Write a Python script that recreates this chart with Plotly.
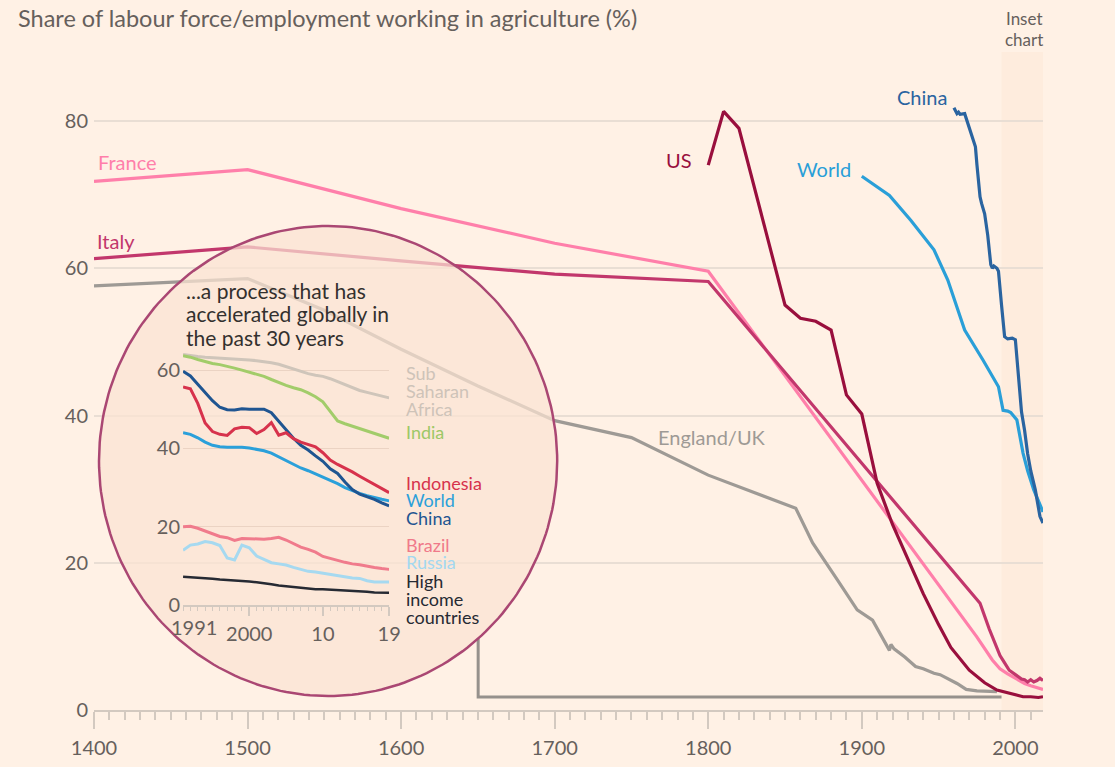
import numpy as np
import plotly.graph_objects as go

# ---------------- DATA ----------------
uk_years = [1400, 1500, 1550, 1600, 1650, 1700, 1750, 1800, 1857, 1868, 1884, 1897, 1907,
            1918, 1919, 1921, 1928, 1935, 1940, 1947, 1951, 1956, 1962, 1968, 1975, 1988]
uk_vals = [57.6, 58.6, 54.3, 49.0, 44.0, 39.3, 37.0, 31.9, 27.4, 22.7, 17.7, 13.6, 12.2,
           8.1, 8.9, 8.3, 7.2, 5.9, 5.6, 5.0, 4.8, 4.3, 3.6, 2.8, 2.6, 2.5]

france_years = [1400, 1500, 1600, 1700, 1800, 1975, 1985, 1990, 1995, 2000, 2003, 2006, 2010, 2013, 2016, 2018]
france_vals = [71.8, 73.4, 68.1, 63.4, 59.6, 9.9, 6.8, 5.6, 4.9, 4.3, 3.9, 3.6, 3.3, 3.1, 2.9, 2.8]

italy_years = [1400, 1500, 1600, 1700, 1800, 1977, 1983, 1990, 1993, 1996, 2000, 2002, 2004,
               2006, 2008, 2010, 2012, 2014, 2016, 2018]
italy_vals = [61.3, 62.9, 61.0, 59.2, 58.2, 14.5, 11.0, 7.4, 6.4, 5.4, 4.8, 4.5, 4.2,
              4.1, 3.8, 4.1, 3.8, 4.0, 4.3, 4.0]

us_years = [1800, 1810, 1820, 1850, 1860, 1870, 1880, 1890, 1900, 1910, 1920, 1930, 1940,
            1950, 1958, 1970, 1980, 1988, 1995, 2000, 2005, 2010, 2015, 2018]
us_vals = [74.0, 81.3, 79.0, 55.0, 53.2, 52.8, 51.6, 42.8, 40.2, 30.8, 25.2, 20.4, 15.8,
           11.6, 8.5, 5.4, 3.7, 2.7, 2.3, 2.0, 1.8, 1.8, 1.7, 1.8]

world_years = [1900, 1918, 1932, 1947, 1956, 1967, 1979, 1986, 1989, 1992, 1995, 1997, 2001,
               2005, 2008, 2012, 2015, 2018]
world_vals = [72.5, 69.9, 66.5, 62.5, 58.4, 51.6, 47.5, 45.0, 43.9, 40.7, 40.6, 40.4, 39.4,
              34.9, 32.5, 29.9, 28.3, 26.9]

china_years = [1960, 1961, 1962, 1963, 1964, 1967, 1969, 1971, 1974, 1975, 1977, 1978, 1980,
               1982, 1984, 1985, 1986, 1988, 1989, 1991, 1993, 1995, 1998, 2000, 2002, 2004,
               2006, 2008, 2010, 2013, 2016, 2018]
china_vals = [81.8, 81.3, 81.0, 81.2, 80.9, 81.0, 79.8, 78.3, 76.5, 74.0, 69.7, 68.8, 67.4,
              64.5, 60.5, 60.0, 60.3, 60.0, 59.6, 55.0, 50.7, 50.4, 50.5, 50.3, 45.0, 40.5,
              38.0, 34.8, 32.5, 29.9, 26.3, 25.4]

# Inset: 1991-2019
inset_years = list(range(1991, 2020))
ssa = [64.0, 63.7, 63.5, 63.3, 63.2, 63.0, 62.9, 62.8, 62.7, 62.6, 62.4, 62.2, 61.9, 61.5, 60.9,
       60.3, 59.7, 59.1, 58.7, 58.4, 57.8, 57.0, 56.2, 55.4, 54.8, 54.3, 53.8, 53.3, 52.9]
india = [63.7, 63.3, 62.7, 62.2, 61.7, 61.4, 61.0, 60.5, 60.0, 59.5, 59.0, 58.4, 57.6, 56.8, 56.1,
         55.5, 55.0, 54.2, 53.2, 51.9, 49.5, 47.0, 46.3, 45.7, 45.1, 44.5, 43.8, 43.2, 42.6]
china_in = [59.7, 58.5, 56.4, 54.3, 52.2, 50.5, 49.9, 49.8, 50.1, 50.0, 50.0, 50.0, 49.1, 46.9, 44.8,
            42.6, 40.8, 39.6, 38.1, 36.7, 34.8, 33.6, 31.4, 29.5, 28.3, 27.7, 27.0, 26.1, 25.3]
indonesia = [55.7, 55.2, 51.5, 46.5, 44.3, 43.6, 43.3, 45.0, 45.4, 45.3, 43.8, 44.8, 46.6, 43.4, 44.0,
             42.5, 41.6, 41.0, 40.4, 38.9, 37.0, 35.9, 35.0, 34.0, 32.9, 31.8, 30.7, 29.7, 28.7]
world_in = [44.0, 43.6, 42.7, 41.6, 40.8, 40.4, 40.3, 40.3, 40.3, 40.1, 39.8, 39.4, 38.8, 37.8, 36.8,
            35.8, 35.0, 34.3, 33.5, 32.8, 31.9, 31.0, 30.0, 29.2, 28.5, 27.9, 27.4, 27.0, 26.6]
brazil = [20.0, 20.1, 19.6, 18.9, 18.1, 17.5, 17.2, 16.5, 17.0, 16.9, 16.8, 16.8, 17.0, 17.3, 16.6,
          15.6, 14.8, 14.2, 13.5, 12.4, 11.8, 11.4, 10.9, 10.5, 10.3, 9.9, 9.6, 9.3, 9.1]
russia = [14.0, 15.3, 15.6, 16.2, 15.9, 15.2, 12.0, 11.5, 15.3, 14.6, 12.5, 11.6, 10.8, 10.5, 10.2,
          9.6, 9.0, 8.6, 8.4, 8.1, 7.8, 7.5, 7.2, 6.9, 6.8, 6.2, 5.9, 5.9, 5.9]
high_income = [7.2, 7.1, 7.0, 6.8, 6.7, 6.5, 6.4, 6.3, 6.1, 6.0, 5.8, 5.6, 5.3, 5.0, 4.8,
               4.6, 4.3, 4.1, 4.0, 4.0, 3.9, 3.9, 3.8, 3.7, 3.6, 3.4, 3.2, 3.1, 3.1]

main_xticks = [1400, 1500, 1600, 1700, 1800, 1900, 2000]
main_yticks = [0, 20, 40, 60, 80]
inset_xticks = [1991, 2000, 2010, 2019]
inset_xtext = ["", "2000", "10", "19"]
inset_yticks = [0, 20, 40, 60]

# ---------------- GEOMETRY helpers ----------------
W, H = 1115, 767
L, R, T, B = 94, 1042.6, 52, 710
X0, X1 = 1400, 2018
Y1 = (B - T) / 7.3625


def px2x(px):
    return X0 + (px - L) * (X1 - X0) / (R - L)


def py2y(py):
    return (B - py) * Y1 / (B - T)


def pxp(px):
    return (px - L) / (R - L)


def pyp(py):
    return (B - py) / (B - T)


FONT = "Lato, 'Noto Sans', sans-serif"
GREY_TXT = "#66605C"
AXIS_C = "#D3C9C0"
GRID_C = "#E9DED4"

C_FRANCE = "#FF7FAA"
C_ITALY = "#C2376C"
C_US = "#990F3D"
C_UK = "#9E9A95"
C_WORLD = "#2A9FD8"
C_CHINA = "#2A64A0"

fig = go.Figure()

# Inset-chart band
fig.add_shape(type="rect", xref="x", yref="paper", x0=1991, x1=X1, y0=0, y1=1,
              fillcolor="rgba(250,214,186,0.18)", line=dict(width=0), layer="below")


def main_line(xs, ys, color, width=3.2):
    fig.add_trace(go.Scatter(x=xs, y=ys, mode="lines", line=dict(color=color, width=width),
                             hoverinfo="skip", xaxis="x", yaxis="y"))


main_line(uk_years, uk_vals, C_UK)
main_line(france_years, france_vals, C_FRANCE)
main_line(italy_years, italy_vals, C_ITALY)
main_line(us_years, us_vals, C_US)
main_line(world_years, world_vals, C_WORLD)
main_line(china_years, china_vals, C_CHINA)

# connector from the circle to the inset band
cx, cy, rx, ry = 328, 461, 229, 235
conn_px = 478
edge_py = cy + ry * np.sqrt(1 - ((conn_px - cx) / rx) ** 2)
fig.add_trace(go.Scatter(x=[px2x(conn_px), px2x(conn_px), 1991],
                         y=[py2y(edge_py), py2y(697), py2y(697)],
                         mode="lines", line=dict(color="#96918C", width=3),
                         hoverinfo="skip", xaxis="x", yaxis="y"))

# magnifier circle covering the main chart
t = np.linspace(0, 2 * np.pi, 241)
fig.add_trace(go.Scatter(x=px2x(cx + rx * np.cos(t)), y=py2y(cy + ry * np.sin(t)),
                         mode="lines", fill="toself", fillcolor="rgba(251,227,211,0.72)",
                         line=dict(color="#AA4773", width=2.5), hoverinfo="skip",
                         xaxis="x", yaxis="y"))


def inset_line(ys, color, width=3):
    fig.add_trace(go.Scatter(x=inset_years, y=ys, mode="lines", line=dict(color=color, width=width),
                             hoverinfo="skip", xaxis="x2", yaxis="y2"))


inset_line(ssa, "#CFC5BA")
inset_line(india, "#A2CC6A")
inset_line(brazil, "#F07B8C")
inset_line(russia, "#A6D9F0")
inset_line(high_income, "#262A33", 2.5)
inset_line(world_in, "#2BA0DA")
inset_line(china_in, "#1F5591")
inset_line(indonesia, "#D7324C")

ann = []


def text(px, py, s, color, size=20, xanchor="left"):
    ann.append(dict(x=pxp(px), y=pyp(py), xref="paper", yref="paper", text=s, showarrow=False,
                    xanchor=xanchor, yanchor="middle", font=dict(family=FONT, size=size, color=color)))


# title and main labels
text(16, 18, "Share of labour force/employment working in agriculture (%)", GREY_TXT, 23.5)
text(1024, 19, "Inset", GREY_TXT, 17, "center")
text(1024, 40, "chart", GREY_TXT, 17, "center")
text(96, 162, "France", C_FRANCE)
text(95, 241, "Italy", C_ITALY)
text(694, 160, "US", C_US, 20, "right")
text(853, 169, "World", C_WORLD, 20, "right")
text(949, 97, "China", C_CHINA, 20, "right")
text(656, 437, "England/UK", C_UK)

# inset title
for i, line in enumerate(["...a process that has", "accelerated globally in", "the past 30 years"]):
    text(184, 290 + 23.5 * i, line, "#33302E", 21)

# inset first year label, offset right of its tick as in the original
text(194, 627, "1991", GREY_TXT, 20, "center")

# inset labels
for s, py, c in [("Sub", 373, "#CEC3B8"), ("Saharan", 391, "#CEC3B8"), ("Africa", 409, "#CEC3B8"),
                 ("India", 432, "#9DC867"), ("Indonesia", 483, "#D7324C"), ("World", 500, "#2BA0DA"),
                 ("China", 518, "#1F5591"), ("Brazil", 545, "#F07A8A"), ("Russia", 562, "#A3D8F0"),
                 ("High", 581, "#262A33"), ("income", 599, "#262A33"), ("countries", 617, "#262A33")]:
    text(404, py, s, c, 18)

in_y0, in_y1 = 0, 66
in_ppu = 3.915

fig.update_layout(
    width=W, height=H, autosize=False,
    margin=dict(l=L, r=W - R, t=T, b=H - B, pad=0),
    paper_bgcolor="#FFF1E5", plot_bgcolor="rgba(0,0,0,0)",
    showlegend=False,
    font=dict(family=FONT, color=GREY_TXT, size=20),
    annotations=ann,
    xaxis=dict(domain=[0, 1], range=[X0, X1], tickmode="array", tickvals=main_xticks,
               ticks="outside", ticklen=17, tickwidth=1.5, tickcolor=AXIS_C,
               showline=True, linecolor=AXIS_C, linewidth=1.5, showgrid=False, zeroline=False,
               minor=dict(tickmode="array", tickvals=list(range(1400, 2020, 10)), ticks="outside",
                          ticklen=8, tickwidth=1.5, tickcolor=AXIS_C, showgrid=False),
               tickfont=dict(size=20, color=GREY_TXT), ticklabelstandoff=2,
               fixedrange=True, automargin=False),
    yaxis=dict(domain=[0, 1], range=[0, Y1], tickmode="array", tickvals=main_yticks, ticks="",
               showgrid=True, gridcolor=GRID_C, gridwidth=1.5, zeroline=False, showline=False,
               tickfont=dict(size=20, color=GREY_TXT), ticklabelstandoff=5,
               fixedrange=True, automargin=False),
    xaxis2=dict(domain=[pxp(183), pxp(389)], anchor="y2", range=[1991, 2019], tickmode="array",
                tickvals=inset_xticks, ticktext=inset_xtext, ticks="outside", ticklen=9,
                tickwidth=1.5, tickcolor=AXIS_C, showline=True, linecolor=AXIS_C, linewidth=1.5,
                showgrid=False, zeroline=False,
                minor=dict(tickmode="array", tickvals=inset_years, ticks="outside", ticklen=4,
                           tickwidth=1.2, tickcolor=AXIS_C, showgrid=False),
                tickfont=dict(size=20, color=GREY_TXT), ticklabelstandoff=1,
                fixedrange=True, automargin=False),
    yaxis2=dict(domain=[pyp(605), pyp(605 - in_y1 * in_ppu)], anchor="x2", range=[in_y0, in_y1],
                tickmode="array", tickvals=inset_yticks, ticks="", showgrid=True,
                gridcolor="#EBD3C3", gridwidth=1.2, zeroline=False, showline=False,
                tickfont=dict(size=20, color=GREY_TXT), ticklabelstandoff=2,
                fixedrange=True, automargin=False),
)

fig.write_html("out.html", config={"displayModeBar": False},
               post_script="document.documentElement.style.margin='0';"
                           "document.body.style.margin='0';document.body.style.overflow='hidden';")
